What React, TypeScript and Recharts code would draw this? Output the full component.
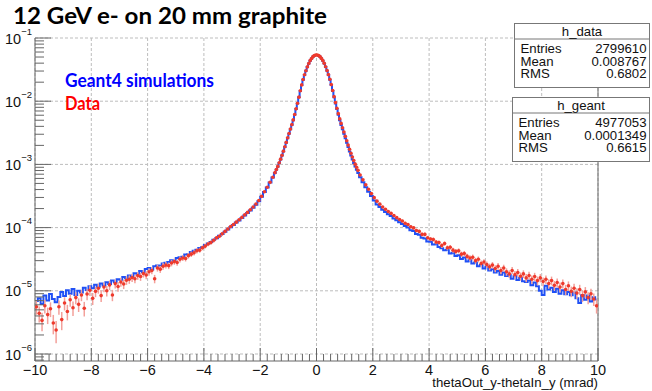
import {
  ComposedChart,
  Line,
  Scatter,
  ErrorBar,
  XAxis,
  YAxis,
  CartesianGrid,
  ReferenceLine,
} from "recharts"

// binning: 0.1 mrad bins in the tails, 0.05 mrad bins in the core |x| < 1.5
const TAIL_WIDTH = 0.1
const CORE_WIDTH = 0.05
const ENTRIES_DATA = 2799610

// Geant4 simulation, normalised bin contents
// left tail: centres -9.95 ... -1.55
const geantLeftTail = [
  6.9e-6, 7.6e-6, 6.2e-6, 8.4e-6, 7.0e-6, 8.9e-6, 7.4e-6, 6.6e-6, 8.0e-6, 9.6e-6,
  8.3e-6, 1.02e-5, 9.0e-6, 1.07e-5, 8.6e-6, 1.0e-5, 9.4e-6, 1.12e-5, 1.03e-5, 1.18e-5,
  1.1e-5, 1.25e-5, 1.16e-5, 1.3e-5, 1.21e-5, 1.36e-5, 1.28e-5, 1.45e-5, 1.38e-5, 1.52e-5,
  1.49e-5, 1.66e-5, 1.58e-5, 1.75e-5, 1.69e-5, 1.9e-5, 1.86e-5, 2.05e-5, 1.98e-5, 2.22e-5,
  2.3e-5, 2.18e-5, 2.45e-5, 2.52e-5, 2.48e-5, 2.7e-5, 2.78e-5, 2.85e-5, 3.05e-5, 3.0e-5,
  3.3e-5, 3.4e-5, 3.45e-5, 3.75e-5, 3.8e-5, 4.1e-5, 4.3e-5, 4.45e-5, 4.75e-5, 4.9e-5,
  5.3e-5, 5.6e-5, 5.9e-5, 6.4e-5, 6.8e-5, 7.4e-5, 7.9e-5, 8.6e-5, 9.3e-5, 1.01e-4,
  1.1e-4, 1.2e-4, 1.3e-4, 1.42e-4, 1.55e-4, 1.7e-4, 1.87e-4, 2.07e-4, 2.3e-4, 2.62e-4,
  3.08e-4, 3.65e-4, 4.3e-4, 5.15e-4, 6.2e-4,
]
// core: centres -1.475 ... 1.475
const geantCore = [
  7.3e-4, 8.2e-4, 9.2e-4, 1.05e-3, 1.2e-3, 1.38e-3, 1.6e-3, 1.88e-3, 2.21e-3, 2.6e-3,
  3.05e-3, 3.59e-3, 4.22e-3, 5.01e-3, 6.1e-3, 7.5e-3, 9.23e-3, 1.15e-2, 1.45e-2, 1.8e-2,
  2.19e-2, 2.6e-2, 3.02e-2, 3.47e-2, 3.94e-2, 4.37e-2, 4.73e-2, 5.05e-2, 5.26e-2, 5.36e-2,
  5.36e-2, 5.26e-2, 5.05e-2, 4.73e-2, 4.37e-2, 3.94e-2, 3.47e-2, 3.02e-2, 2.6e-2, 2.19e-2,
  1.8e-2, 1.45e-2, 1.15e-2, 9.23e-3, 7.5e-3, 6.1e-3, 5.01e-3, 4.22e-3, 3.59e-3, 3.05e-3,
  2.6e-3, 2.21e-3, 1.88e-3, 1.6e-3, 1.38e-3, 1.2e-3, 1.05e-3, 9.23e-4, 8.22e-4, 7.33e-4,
]
// right tail: centres 1.55 ... 9.95
const geantRightTail = [
  6.25e-4, 5.2e-4, 4.35e-4, 3.7e-4, 3.15e-4,
  2.68e-4, 2.33e-4, 2.12e-4, 1.92e-4, 1.76e-4, 1.62e-4, 1.53e-4, 1.39e-4, 1.31e-4, 1.22e-4,
  1.14e-4, 1.06e-4, 1.0e-4, 9.1e-5, 8.8e-5, 7.9e-5, 7.7e-5, 6.9e-5, 6.7e-5, 6.0e-5,
  5.95e-5, 5.4e-5, 5.45e-5, 4.95e-5, 4.7e-5, 4.4e-5, 4.45e-5, 3.9e-5, 4.0e-5, 3.55e-5,
  3.65e-5, 3.2e-5, 3.35e-5, 2.9e-5, 3.05e-5, 2.7e-5, 2.8e-5, 2.45e-5, 2.55e-5, 2.25e-5,
  2.4e-5, 2.1e-5, 2.2e-5, 1.95e-5, 2.05e-5, 1.8e-5, 1.95e-5, 1.72e-5, 1.8e-5, 1.55e-5,
  1.7e-5, 1.48e-5, 1.6e-5, 1.42e-5, 1.38e-5, 1.45e-5, 1.22e-5, 1.35e-5, 1.18e-5, 1.0e-5,
  8.6e-6, 1.2e-5, 1.05e-5, 1.12e-5, 9.6e-6, 1.08e-5, 9.0e-6, 1.02e-5, 8.8e-6, 9.6e-6,
  8.5e-6, 9.4e-6, 7.6e-6, 6.4e-6, 8.6e-6, 7.2e-6, 8.4e-6, 6.8e-6, 7.9e-6, 7.3e-6,
]

// measured data, normalised bin contents
const dataLeftTail = [
  5.6e-6, 4.4e-6, 3.4e-6, 5.8e-6, 4.2e-6, 5.2e-6, 3.1e-6, 2.4e-6, 5.6e-6, 3.5e-6,
  6.4e-6, 4.7e-6, 7.2e-6, 5.4e-6, 7.8e-6, 6.1e-6, 8.6e-6, 5.3e-6, 8.9e-6, 1.02e-5,
  7.6e-6, 9.8e-6, 1.1e-5, 8.4e-6, 1.15e-5, 1.0e-5, 1.24e-5, 8.6e-6, 1.3e-5, 1.17e-5,
  1.38e-5, 1.28e-5, 1.47e-5, 1.52e-5, 1.62e-5, 1.55e-5, 1.74e-5, 1.68e-5, 1.88e-5, 1.78e-5,
  2.0e-5, 2.1e-5, 1.55e-5, 2.3e-5, 2.2e-5, 2.45e-5, 2.55e-5, 2.5e-5, 2.75e-5, 2.9e-5,
  2.8e-5, 3.15e-5, 3.3e-5, 3.25e-5, 3.6e-5, 3.8e-5, 4.0e-5, 4.3e-5, 4.4e-5, 4.8e-5,
  5.1e-5, 5.5e-5, 5.8e-5, 6.3e-5, 6.9e-5, 7.3e-5, 8.0e-5, 8.7e-5, 9.5e-5, 1.04e-4,
  1.12e-4, 1.22e-4, 1.33e-4, 1.45e-4, 1.59e-4, 1.74e-4, 1.92e-4, 2.12e-4, 2.36e-4, 2.68e-4,
  3.12e-4, 3.7e-4, 4.35e-4, 5.2e-4, 6.25e-4,
]
const dataCore = [
  7.4e-4, 8.3e-4, 9.3e-4, 1.06e-3, 1.21e-3, 1.39e-3, 1.62e-3, 1.9e-3, 2.23e-3, 2.63e-3,
  3.08e-3, 3.62e-3, 4.26e-3, 5.06e-3, 6.16e-3, 7.57e-3, 9.3e-3, 1.16e-2, 1.46e-2, 1.81e-2,
  2.2e-2, 2.62e-2, 3.04e-2, 3.49e-2, 3.96e-2, 4.39e-2, 4.75e-2, 5.07e-2, 5.28e-2, 5.37e-2,
  5.38e-2, 5.28e-2, 5.07e-2, 4.76e-2, 4.4e-2, 3.97e-2, 3.5e-2, 3.05e-2, 2.63e-2, 2.22e-2,
  1.83e-2, 1.48e-2, 1.18e-2, 9.5e-3, 7.75e-3, 6.35e-3, 5.25e-3, 4.45e-3, 3.8e-3, 3.25e-3,
  2.78e-3, 2.37e-3, 2.02e-3, 1.73e-3, 1.5e-3, 1.31e-3, 1.15e-3, 1.01e-3, 9.0e-4, 8.05e-4,
]
const dataRightTail = [
  6.8e-4, 5.7e-4, 4.75e-4, 4.05e-4, 3.45e-4,
  2.98e-4, 2.62e-4, 2.35e-4, 2.12e-4, 1.95e-4, 1.8e-4, 1.68e-4, 1.55e-4, 1.44e-4, 1.34e-4,
  1.27e-4, 1.17e-4, 1.12e-4, 1.03e-4, 9.9e-5, 9.0e-5, 8.7e-5, 7.8e-5, 7.8e-5, 6.9e-5,
  6.6e-5, 6.5e-5, 5.9e-5, 5.8e-5, 5.2e-5, 5.6e-5, 4.8e-5, 4.9e-5, 4.4e-5, 4.2e-5,
  4.3e-5, 3.8e-5, 3.9e-5, 3.5e-5, 3.3e-5, 3.4e-5, 3.0e-5, 3.15e-5, 2.7e-5, 2.85e-5,
  2.6e-5, 2.4e-5, 2.55e-5, 2.25e-5, 2.45e-5, 2.1e-5, 2.3e-5, 2.0e-5, 1.85e-5, 2.1e-5,
  1.8e-5, 1.95e-5, 1.7e-5, 1.85e-5, 1.6e-5, 1.75e-5, 1.52e-5, 1.68e-5, 1.45e-5, 1.6e-5,
  1.4e-5, 1.52e-5, 1.3e-5, 1.45e-5, 1.22e-5, 1.35e-5, 1.15e-5, 1.3e-5, 1.05e-5, 1.2e-5,
  9.8e-6, 1.1e-5, 9.2e-6, 1.05e-5, 8.4e-6, 9.6e-6, 7.8e-6, 9.0e-6, 7.4e-6, 5.8e-6,
]

const xMajorTicks = [-10, -8, -6, -4, -2, 0, 2, 4, 6, 8, 10]
const yDecades = [1e-6, 1e-5, 1e-4, 1e-3, 1e-2, 1e-1]
const yExponents = ["−6", "−5", "−4", "−3", "−2", "−1"]

const dataStats = [
  ["Entries", "2799610"],
  ["Mean", "0.008767"],
  ["RMS", "0.6802"],
]
const geantStats = [
  ["Entries", "4977053"],
  ["Mean", "0.0001349"],
  ["RMS", "0.6615"],
]

const Y_MIN = 7.75e-7
const Y_MAX = 0.1
const FONT = "'Liberation Sans', Arial, Helvetica, sans-serif"
const BOLD_FONT = "Lato, 'Open Sans', sans-serif"
const AXIS = "#666"

// bin centres for the three binning regions
const centres = (first: number, width: number, n: number) =>
  Array.from({ length: n }, (_, i) => +(first + i * width).toFixed(3))
const xLeft = centres(-9.95, TAIL_WIDTH, geantLeftTail.length)
const xCore = centres(-1.475, CORE_WIDTH, geantCore.length)
const xRight = centres(1.55, TAIL_WIDTH, geantRightTail.length)
const binCentres = [...xLeft, ...xCore, ...xRight]

const geantValues = [...geantLeftTail, ...geantCore, ...geantRightTail]
const dataValues = [...dataLeftTail, ...dataCore, ...dataRightTail]

const geantRows = geantValues.map((v, i) => ({ x: binCentres[i], y: v }))
// error bars: Poisson error of the bin content
const dataRows = dataValues.map((v, i) => ({ x: binCentres[i], y: v, err: Math.sqrt(v / ENTRIES_DATA) }))

const xTicks: number[] = []
for (let t = -10; t <= 10.001; t += 0.25) xTicks.push(+t.toFixed(2))

const yTicks: number[] = []
;[1e-7, 1e-6, 1e-5, 1e-4, 1e-3, 1e-2].forEach((d) => {
  for (let m = 1; m <= 9; m++) {
    const v = m * d
    if (v >= Y_MIN && v <= Y_MAX * 1.0001) yTicks.push(v)
  }
})
yTicks.push(Y_MAX)

function XTick(props: any) {
  const { x, y, payload } = props
  const v = payload.value
  const major = xMajorTicks.includes(v)
  return (
    <g>
      <line x1={x} x2={x} y1={y} y2={y - (major ? 13 : 7)} stroke={AXIS} />
      {major && (
        <text x={x} y={y + 13.5} textAnchor="middle" fontSize={14.5} fontFamily={FONT} fill="#111">
          {v < 0 ? `−${-v}` : `${v}`}
        </text>
      )}
    </g>
  )
}

function YTick(props: any) {
  const { x, y, payload } = props
  const v = payload.value
  const idx = yDecades.findIndex((d) => Math.abs(d - v) / d < 1e-6)
  const major = idx >= 0
  return (
    <g>
      <line x1={x} x2={x + (major ? 16 : 9)} y1={y} y2={y} stroke={AXIS} />
      {major && (
        <text x={x - 3} y={y + 5.5} textAnchor="end" fontSize={14.5} fontFamily={FONT} fill="#111">
          10
          <tspan dy={-9} fontSize={9.5}>{yExponents[idx]}</tspan>
        </text>
      )}
    </g>
  )
}

function StatBox({ x, y, w, title, rows }: { x: number; y: number; w: number; title: string; rows: string[][] }) {
  return (
    <g fontFamily={FONT} fontSize={13.2} fill="#111">
      <rect x={x} y={y} width={w} height={64} fill="#fff" stroke="#777" />
      <line x1={x} x2={x + w} y1={y + 15.5} y2={y + 15.5} stroke="#777" />
      <text x={x + w / 2} y={y + 12.5} textAnchor="middle">{title}</text>
      {rows.map((r, i) => (
        <g key={r[0]}>
          <text x={x + 6} y={y + 29.5 + i * 12.6}>{r[0]}</text>
          <text x={x + w - 3} y={y + 29.5 + i * 12.6} textAnchor="end">{r[1]}</text>
        </g>
      ))}
    </g>
  )
}

export default function App() {
  return (
    <div style={{ position: "absolute", left: 0, top: 0, width: 652, height: 391, background: "#fff" }}>
      <ComposedChart width={652} height={391} margin={{ top: 38, right: 54, bottom: 0, left: 0 }}>
        <CartesianGrid
          horizontalValues={yDecades}
          verticalValues={xMajorTicks}
          stroke="#bdbdbd"
          strokeDasharray="3 2"
        />
        <XAxis
          type="number"
          dataKey="x"
          domain={[-10, 10]}
          ticks={xTicks}
          interval={0}
          tick={<XTick />}
          tickSize={0}
          tickMargin={0}
          tickLine={false}
          height={30}
          axisLine={{ stroke: AXIS }}
          allowDataOverflow
        />
        <YAxis
          type="number"
          dataKey="y"
          scale="log"
          domain={[Y_MIN, Y_MAX]}
          ticks={yTicks}
          interval={0}
          tick={<YTick />}
          tickSize={0}
          tickMargin={0}
          tickLine={false}
          width={35}
          axisLine={{ stroke: AXIS }}
          allowDataOverflow
        />
        <ReferenceLine x={10} stroke={AXIS} />
        <Line
          data={geantRows}
          dataKey="y"
          type="step"
          stroke="#2050f5"
          strokeWidth={2}
          dot={false}
          isAnimationActive={false}
        />
        <Scatter
          data={dataRows}
          dataKey="y"
          isAnimationActive={false}
          shape={(p: any) => <circle cx={p.cx} cy={p.cy} r={1.8} fill="#ee3a2c" />}
        >
          <ErrorBar dataKey="err" direction="y" width={0} stroke="#f3a09a" strokeWidth={1.5} />
        </Scatter>
      </ComposedChart>
      <svg width={652} height={391} style={{ position: "absolute", left: 0, top: 0, pointerEvents: "none" }}>
        <text x={13} y={24} fontFamily={BOLD_FONT} fontWeight={700} fontSize={22} fill="#000" textLength={314} lengthAdjust="spacingAndGlyphs">
          12 GeV e- on 20 mm graphite
        </text>
        <text x={65} y={87} fontFamily={BOLD_FONT} fontWeight={700} fontSize={18} fill="#0000ff" textLength={149} lengthAdjust="spacingAndGlyphs">
          Geant4 simulations
        </text>
        <text x={65} y={110} fontFamily={BOLD_FONT} fontWeight={700} fontSize={18} fill="#ff0000" textLength={35} lengthAdjust="spacingAndGlyphs">
          Data
        </text>
        <text x={598} y={387} textAnchor="end" fontFamily={FONT} fontSize={13.2} fill="#111">
          thetaOut_y-thetaIn_y (mrad)
        </text>
        <StatBox x={514.5} y={23.5} w={135} title="h_data" rows={dataStats} />
        <StatBox x={512.5} y={97.5} w={137} title="h_geant" rows={geantStats} />
      </svg>
    </div>
  )
}
